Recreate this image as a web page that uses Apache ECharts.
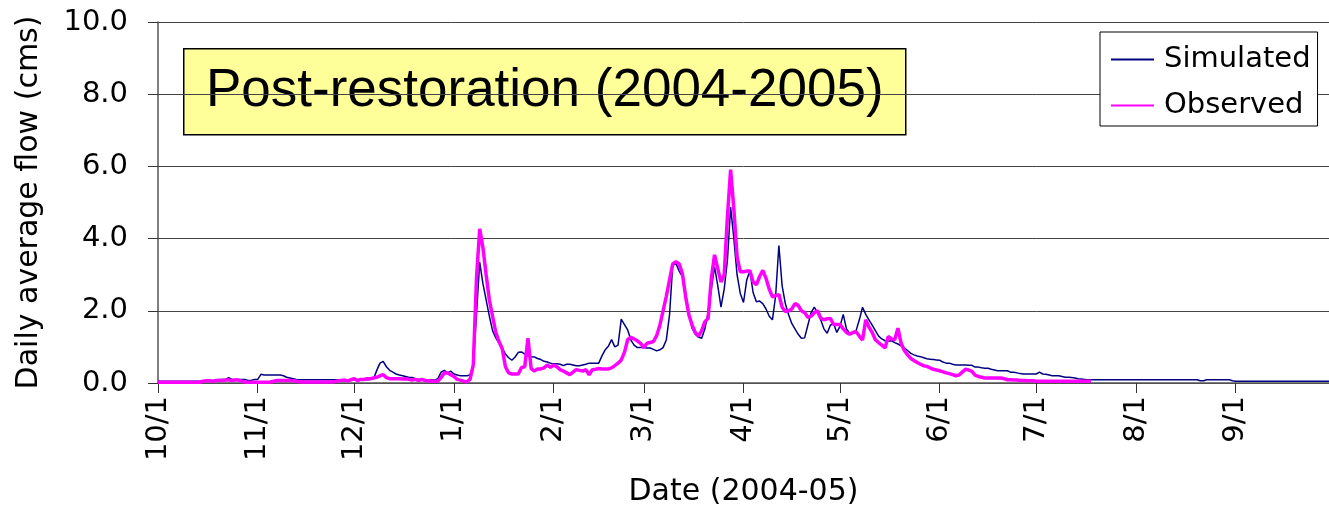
<!DOCTYPE html>
<html>
<head>
<meta charset="utf-8">
<script src="https://cdn.jsdelivr.net/npm/echarts@6/dist/echarts.min.js"></script>
<style>
  html, body { margin: 0; padding: 0; background: #fff; }
  #chart { width: 1329px; height: 512px; }
</style>
</head>
<body>
<div id="chart"></div>
<script>
// Water year Oct 2004 - Sep 2005, one category per day
const months = ['10', '11', '12', '1', '2', '3', '4', '5', '6', '7', '8', '9'];
const monthDays = [31, 30, 31, 31, 28, 31, 30, 31, 30, 31, 31, 30];
const dates = [];
months.forEach((m, i) => {
  for (let d = 1; d <= monthDays[i]; d++) dates.push(m + '/' + d);
});

// Daily average flow, model output (cms)
const simulated = [
  /* Oct */ 0.05,0.05,0.05,0.05,0.05,0.05,0.05,0.05,0.05,0.05,0.05,0.05,0.05,0.05,0.05,0.05,0.05,0.05,0.08,0.1,0.1,0.1,0.15,0.1,0.1,0.1,0.1,0.1,0.07,0.07,0.1,
  /* Nov */ 0.1,0.24,0.22,0.22,0.22,0.22,0.22,0.22,0.2,0.16,0.14,0.12,0.1,0.09,0.09,0.09,0.09,0.09,0.09,0.09,0.09,0.09,0.09,0.09,0.09,0.09,0.09,0.09,0.09,0.09,
  /* Dec */ 0.09,0.09,0.09,0.09,0.09,0.1,0.12,0.35,0.55,0.6,0.45,0.35,0.3,0.25,0.22,0.2,0.18,0.15,0.15,0.12,0.1,0.1,0.08,0.08,0.08,0.08,0.12,0.3,0.35,0.28,0.33,
  /* Jan */ 0.25,0.22,0.2,0.2,0.2,0.22,0.5,1.9,3.35,2.75,2.3,1.85,1.45,1.25,1.1,0.97,0.8,0.7,0.63,0.72,0.85,0.86,0.8,0.75,0.73,0.72,0.68,0.65,0.6,0.58,0.55,
  /* Feb */ 0.53,0.53,0.52,0.48,0.52,0.52,0.5,0.48,0.48,0.5,0.52,0.55,0.55,0.55,0.55,0.75,0.92,1.02,1.2,1.0,1.05,1.77,1.62,1.47,1.19,1.05,0.98,0.98,
  /* Mar */ 0.98,0.97,0.97,0.93,0.89,0.92,0.98,1.19,1.88,3.26,3.31,3.1,2.95,2.5,1.9,1.52,1.35,1.27,1.24,1.5,1.95,2.6,3.22,2.7,2.1,2.6,3.4,4.87,4.0,3.0,2.48,
  /* Apr */ 2.23,2.85,3.1,2.5,2.25,2.27,2.2,2.05,1.85,1.75,2.43,3.81,2.7,2.2,1.9,1.65,1.5,1.35,1.24,1.25,1.6,1.95,2.1,1.95,1.75,1.5,1.38,1.6,1.65,1.4,
  /* May */ 1.57,1.9,1.5,1.38,1.4,1.45,1.75,2.1,1.9,1.75,1.6,1.45,1.3,1.22,1.17,1.16,1.17,1.12,1.08,1.03,0.97,0.9,0.82,0.78,0.75,0.73,0.7,0.67,0.66,0.65,0.64,
  /* Jun */ 0.63,0.58,0.55,0.55,0.52,0.5,0.5,0.5,0.5,0.49,0.49,0.44,0.44,0.42,0.41,0.41,0.38,0.36,0.34,0.34,0.34,0.34,0.3,0.3,0.28,0.26,0.25,0.25,0.25,0.25,
  /* Jul */ 0.25,0.3,0.25,0.24,0.22,0.2,0.2,0.2,0.18,0.16,0.16,0.15,0.14,0.12,0.11,0.1,0.09,0.09,0.09,0.09,0.09,0.09,0.09,0.09,0.09,0.09,0.09,0.09,0.09,0.09,0.09,
  /* Aug */ 0.09,0.09,0.09,0.09,0.09,0.09,0.09,0.09,0.09,0.09,0.09,0.09,0.09,0.09,0.09,0.09,0.09,0.09,0.09,0.09,0.06,0.06,0.09,0.09,0.09,0.09,0.09,0.09,0.09,0.09,0.06,
  /* Sep */ 0.05,0.05,0.05,0.05,0.05,0.05,0.05,0.05,0.05,0.05,0.05,0.05,0.05,0.05,0.05,0.05,0.05,0.05,0.05,0.05,0.05,0.05,0.05,0.05,0.05,0.05,0.05,0.05,0.05,0.05
];

// Daily average flow, gauge record (cms); record stops mid-July
const observed = [
  /* Oct */ 0.02,0.02,0.02,0.02,0.02,0.02,0.02,0.02,0.02,0.02,0.02,0.02,0.02,0.02,0.05,0.06,0.06,0.05,0.07,0.07,0.07,0.08,0.08,0.07,0.08,0.08,0.05,0.03,0.02,0.02,0.02,
  /* Nov */ 0.02,0.02,0.02,0.02,0.03,0.05,0.07,0.07,0.07,0.07,0.07,0.06,0.05,0.03,0.03,0.03,0.03,0.03,0.03,0.03,0.03,0.03,0.03,0.03,0.04,0.06,0.07,0.08,0.06,0.09,
  /* Dec */ 0.12,0.07,0.1,0.1,0.12,0.12,0.14,0.16,0.2,0.23,0.15,0.12,0.12,0.12,0.12,0.11,0.12,0.1,0.08,0.1,0.07,0.1,0.07,0.06,0.05,0.05,0.05,0.15,0.28,0.28,0.23,
  /* Jan */ 0.18,0.1,0.08,0.05,0.03,0.1,0.5,2.9,4.27,3.75,3.0,2.3,1.85,1.4,1.15,0.95,0.45,0.28,0.25,0.25,0.25,0.43,0.45,1.24,0.4,0.33,0.39,0.39,0.42,0.5,0.43,
  /* Feb */ 0.5,0.45,0.37,0.33,0.28,0.23,0.3,0.37,0.35,0.33,0.37,0.23,0.37,0.38,0.4,0.39,0.39,0.39,0.42,0.48,0.55,0.64,0.85,1.2,1.27,1.22,1.17,1.1,
  /* Mar */ 0.98,1.1,1.12,1.15,1.31,1.6,2.0,2.4,2.85,3.3,3.36,3.3,3.03,2.4,1.9,1.61,1.4,1.3,1.45,1.7,1.79,2.9,3.55,3.17,2.8,3.0,4.6,5.91,4.82,3.5,3.08,
  /* Apr */ 3.08,3.1,3.1,2.8,2.72,2.95,3.12,2.9,2.6,2.39,2.42,2.45,2.1,1.98,2.0,2.05,2.2,2.15,2.0,1.95,1.82,1.85,1.95,2.0,1.8,1.75,1.78,1.79,1.62,1.62,
  /* May */ 1.62,1.5,1.4,1.35,1.4,1.42,1.3,1.19,1.75,1.55,1.4,1.2,1.12,1.05,0.97,1.29,1.22,1.2,1.52,1.1,0.9,0.78,0.68,0.62,0.57,0.52,0.48,0.46,0.42,0.38,0.36,
  /* Jun */ 0.34,0.31,0.28,0.26,0.23,0.2,0.22,0.3,0.38,0.36,0.32,0.22,0.18,0.16,0.14,0.14,0.14,0.14,0.14,0.14,0.12,0.09,0.09,0.08,0.08,0.07,0.07,0.06,0.06,0.06,
  /* Jul */ 0.05,0.05,0.05,0.05,0.05,0.05,0.05,0.05,0.05,0.05,0.05,0.05,0.05,0.05,0.05,0.05,0.05,0.05
];

const yTicks = { min: 0, max: 10, step: 2 };
const seriesNames = ['Simulated', 'Observed'];
const FONT = '"DejaVu Sans", sans-serif';
const TITLE_FONT = '"Liberation Sans", Arial, sans-serif';
const isMonthStart = (i, v) => /\/1$/.test(v);

const chart = echarts.init(document.getElementById('chart'), null, { renderer: 'canvas' });
chart.setOption({
  animation: false,
  backgroundColor: '#fff',
  textStyle: { fontFamily: FONT, color: '#000' },
  grid: { left: 158, right: 0, top: 22, bottom: 127, containLabel: false },
  legend: {
    data: seriesNames,
    orient: 'vertical',
    left: 1100,
    top: 32,
    padding: [13, 7, 6, 10],
    itemWidth: 43,
    itemHeight: 14,
    itemGap: 17,
    borderColor: '#000',
    borderWidth: 1,
    backgroundColor: '#fff',
    itemStyle: { opacity: 0 },
    textStyle: { fontSize: 29, color: '#000', fontFamily: FONT, padding: [0, 0, 0, 5] }
  },
  xAxis: {
    type: 'category',
    data: dates,
    boundaryGap: false,
    name: 'Date (2004-05)',
    nameLocation: 'middle',
    nameGap: 94,
    nameTextStyle: { fontSize: 30, color: '#000', fontFamily: FONT },
    axisLine: { lineStyle: { color: '#555', width: 1.5 } },
    axisTick: { interval: isMonthStart, length: 10, lineStyle: { color: '#333' } },
    axisLabel: { interval: isMonthStart, rotate: 90, margin: 13, fontSize: 29, color: '#000', fontFamily: FONT },
    splitLine: { show: false }
  },
  yAxis: {
    type: 'value',
    min: yTicks.min,
    max: yTicks.max,
    interval: yTicks.step,
    name: 'Daily average flow (cms)',
    nameLocation: 'middle',
    nameRotate: 90,
    nameGap: 114,
    nameTextStyle: { fontSize: 30, color: '#000', fontFamily: FONT },
    axisLine: { show: true, lineStyle: { color: '#555', width: 1.5 } },
    axisTick: { show: true, length: 10, lineStyle: { color: '#333' } },
    axisLabel: { formatter: v => v.toFixed(1), fontSize: 29, margin: 30, color: '#000', fontFamily: FONT },
    splitLine: { lineStyle: { color: '#444', width: 1 } }
  },
  series: [
    {
      name: seriesNames[0], type: 'line', data: simulated, symbol: 'none',
      lineStyle: { color: '#000080', width: 1.5 }, itemStyle: { color: '#000080' }, z: 2
    },
    {
      name: seriesNames[1], type: 'line', data: observed, symbol: 'none',
      lineStyle: { color: '#FF00FF', width: 3.5 }, itemStyle: { color: '#FF00FF' }, z: 3
    }
  ],
  graphic: [{
    type: 'group',
    left: 183,
    top: 48,
    z: 10,
    children: [
      { type: 'rect', shape: { x: 0, y: 0, width: 722, height: 86 },
        style: { fill: '#FFFF99', stroke: '#000', lineWidth: 1.5 } },
      { type: 'text', x: 361, y: 43,
        style: { text: 'Post-restoration (2004-2005)', font: '53px ' + TITLE_FONT, fill: '#000',
                 align: 'center', verticalAlign: 'middle' } }
    ]
  }]
});
</script>
</body>
</html>
